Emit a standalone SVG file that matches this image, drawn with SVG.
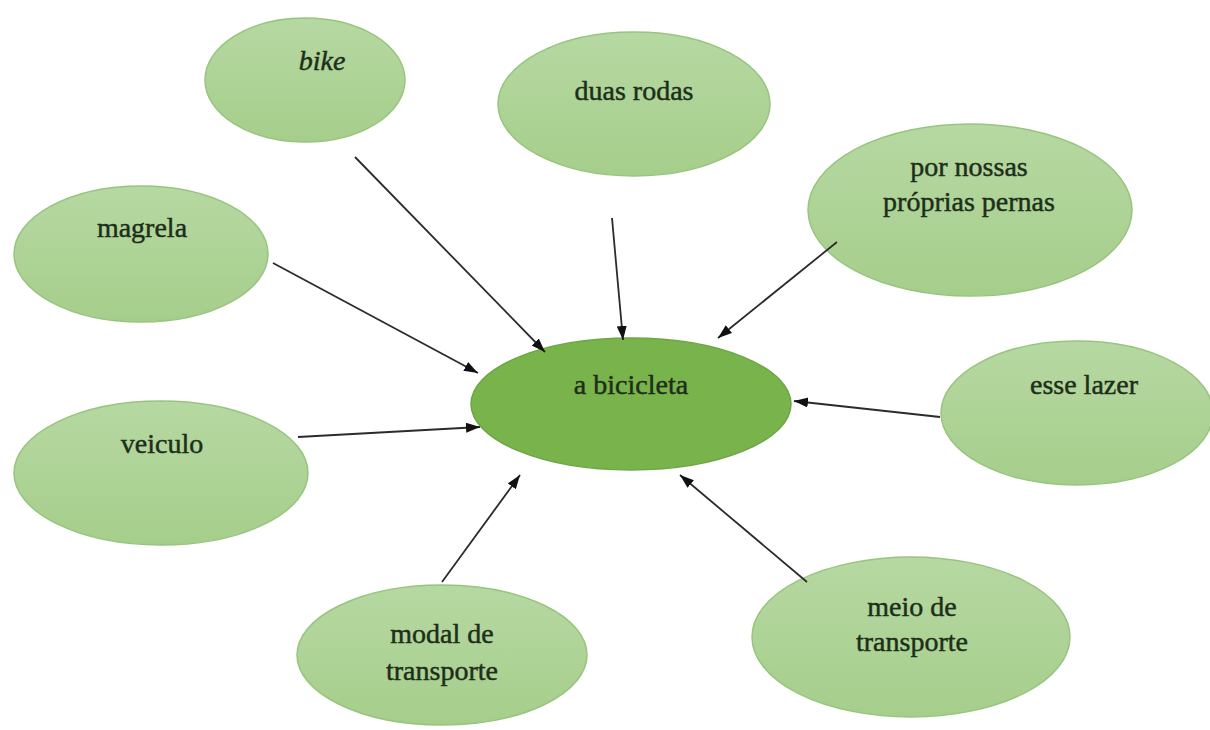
<svg xmlns="http://www.w3.org/2000/svg" width="1210" height="730" viewBox="0 0 1210 730">
  <defs>
    <linearGradient id="lg" x1="0" y1="0" x2="0" y2="1">
      <stop offset="0" stop-color="#b6d8a2"/>
      <stop offset="1" stop-color="#a6ce8b"/>
    </linearGradient>
    <marker id="ah" markerUnits="userSpaceOnUse" markerWidth="16" markerHeight="12" refX="14" refY="5" orient="auto">
      <path d="M0,0 L14,5 L0,10 z" fill="#111"/>
    </marker>
    <style>
      .leaf { fill: url(#lg); stroke: #98c47e; stroke-width: 1.5; }
      .hub { fill: #78b34b; stroke: #6ea644; stroke-width: 1.5; }
      .t { font-size: 28px; fill: #1d2e19; stroke: #1d2e19; stroke-width: 0.45; text-anchor: middle; }
      .it { font-style: italic; }
      .conn line { stroke: #2b2b2b; stroke-width: 1.8; marker-end: url(#ah); }
    </style>
  </defs>
  <rect width="1210" height="730" fill="#ffffff"/>

  <g font-family="'Liberation Serif', 'Times New Roman', Tinos, 'DejaVu Serif', 'Noto Serif', Georgia, serif">
  <g id="node-bike">
    <ellipse class="leaf" cx="305" cy="80" rx="100" ry="62"/>
    <text class="t it" x="322" y="70">bike</text>
  </g>
  <g id="node-duas-rodas">
    <ellipse class="leaf" cx="634" cy="104" rx="136" ry="72"/>
    <text class="t" x="634" y="100">duas rodas</text>
  </g>
  <g id="node-por-nossas">
    <ellipse class="leaf" cx="970" cy="210" rx="162" ry="86"/>
    <text class="t" x="969" y="176">por nossas</text>
    <text class="t" x="969" y="211">próprias pernas</text>
  </g>
  <g id="node-magrela">
    <ellipse class="leaf" cx="141" cy="254" rx="127" ry="68"/>
    <text class="t" x="142" y="237">magrela</text>
  </g>
  <g id="node-bicicleta">
    <ellipse class="hub" cx="631" cy="404" rx="160" ry="66"/>
    <text class="t" x="631" y="394">a bicicleta</text>
  </g>
  <g id="node-esse-lazer">
    <ellipse class="leaf" cx="1077" cy="413" rx="136" ry="72"/>
    <text class="t" x="1084" y="394">esse lazer</text>
  </g>
  <g id="node-veiculo">
    <ellipse class="leaf" cx="161" cy="473" rx="147" ry="72"/>
    <text class="t" x="162" y="453">veiculo</text>
  </g>
  <g id="node-modal">
    <ellipse class="leaf" cx="442" cy="655" rx="145" ry="70"/>
    <text class="t" x="442" y="643">modal de</text>
    <text class="t" x="442" y="680">transporte</text>
  </g>
  <g id="node-meio">
    <ellipse class="leaf" cx="911" cy="637" rx="159" ry="80"/>
    <text class="t" x="912" y="616">meio de</text>
    <text class="t" x="912" y="651">transporte</text>
  </g>
  </g>

  <g id="connectors" class="conn">
    <line x1="355" y1="157" x2="545" y2="352"/>
    <line x1="612" y1="218" x2="623" y2="340"/>
    <line x1="837" y1="242" x2="718" y2="338"/>
    <line x1="273" y1="263" x2="478" y2="373"/>
    <line x1="298" y1="437" x2="480" y2="427"/>
    <line x1="940" y1="417" x2="794" y2="401"/>
    <line x1="442" y1="582" x2="520" y2="475"/>
    <line x1="807" y1="582" x2="680" y2="475"/>
  </g>
</svg>
